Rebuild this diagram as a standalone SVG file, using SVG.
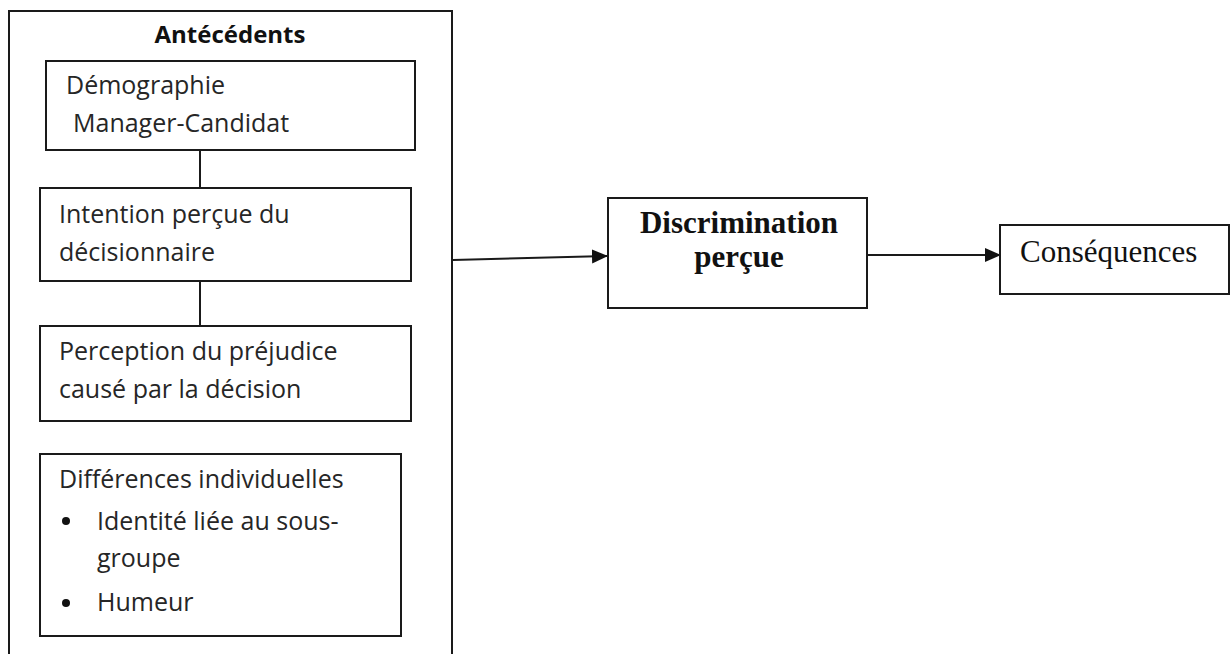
<svg xmlns="http://www.w3.org/2000/svg" width="1231" height="654" viewBox="0 0 1231 654">
<style>
.box{fill:#fff;stroke:#1a1a1a;stroke-width:2}
.line{stroke:#1a1a1a;stroke-width:2;fill:none}
.t{font-family:"Open Sans","Noto Sans",sans-serif;font-size:25px;fill:#262626}
.tb{font-family:"Open Sans","Noto Sans",sans-serif;font-size:24px;font-weight:bold;fill:#111}
.s{font-family:"Liberation Serif","Times New Roman",serif;fill:#111}
</style>
<defs>
<marker id="arr2" markerWidth="16" markerHeight="16" refX="15" refY="8" orient="auto" markerUnits="userSpaceOnUse" viewBox="0 0 16 16">
<path d="M0,1 L16,8 L0,15 Z" fill="#111"/>
</marker>
</defs>
<rect x="0" y="0" width="1231" height="654" fill="#fff"/>
<g id="antecedents">
<rect class="box" x="9" y="11" width="443" height="660"/>
<text class="tb" x="230" y="43" text-anchor="middle">Antécédents</text>
</g>
<g id="connectors">
<line class="line" x1="200" y1="150" x2="200" y2="188"/>
<line class="line" x1="200" y1="281" x2="200" y2="326"/>
<line class="line" x1="453" y1="260" x2="607" y2="256" marker-end="url(#arr2)"/>
<line class="line" x1="867" y1="255" x2="1000" y2="255" marker-end="url(#arr2)"/>
</g>
<g id="demographie">
<rect class="box" x="46" y="61" width="369" height="89"/>
<text class="t" x="66" y="94" font-size="23.8">Démographie</text>
<text class="t" x="73" y="132" font-size="23.8">Manager-Candidat</text>
</g>
<g id="intention">
<rect class="box" x="40" y="188" width="371" height="93"/>
<text class="t" x="59" y="223">Intention perçue du</text>
<text class="t" x="59" y="261">décisionnaire</text>
</g>
<g id="perception">
<rect class="box" x="40" y="326" width="371" height="95"/>
<text class="t" x="59" y="360">Perception du préjudice</text>
<text class="t" x="59" y="398">causé par la décision</text>
</g>
<g id="differences">
<rect class="box" x="40" y="454" width="361" height="182"/>
<text class="t" x="59" y="488">Différences individuelles</text>
<circle cx="66" cy="521" r="4" fill="#111"/>
<text class="t" x="97" y="530" font-size="24">Identité liée au sous-</text>
<text class="t" x="97" y="567" font-size="24">groupe</text>
<circle cx="66" cy="603" r="4" fill="#111"/>
<text class="t" x="97" y="611" font-size="24">Humeur</text>
</g>
<g id="discrimination">
<rect class="box" x="608" y="198" width="259" height="110"/>
<text class="s" x="739" y="233" font-size="31" font-weight="bold" text-anchor="middle">Discrimination</text>
<text class="s" x="739" y="267" font-size="31" font-weight="bold" text-anchor="middle">perçue</text>
</g>
<g id="consequences">
<rect class="box" x="1000" y="225" width="229" height="69"/>
<text class="s" x="1020" y="262" font-size="31">Conséquences</text>
</g>
</svg>
